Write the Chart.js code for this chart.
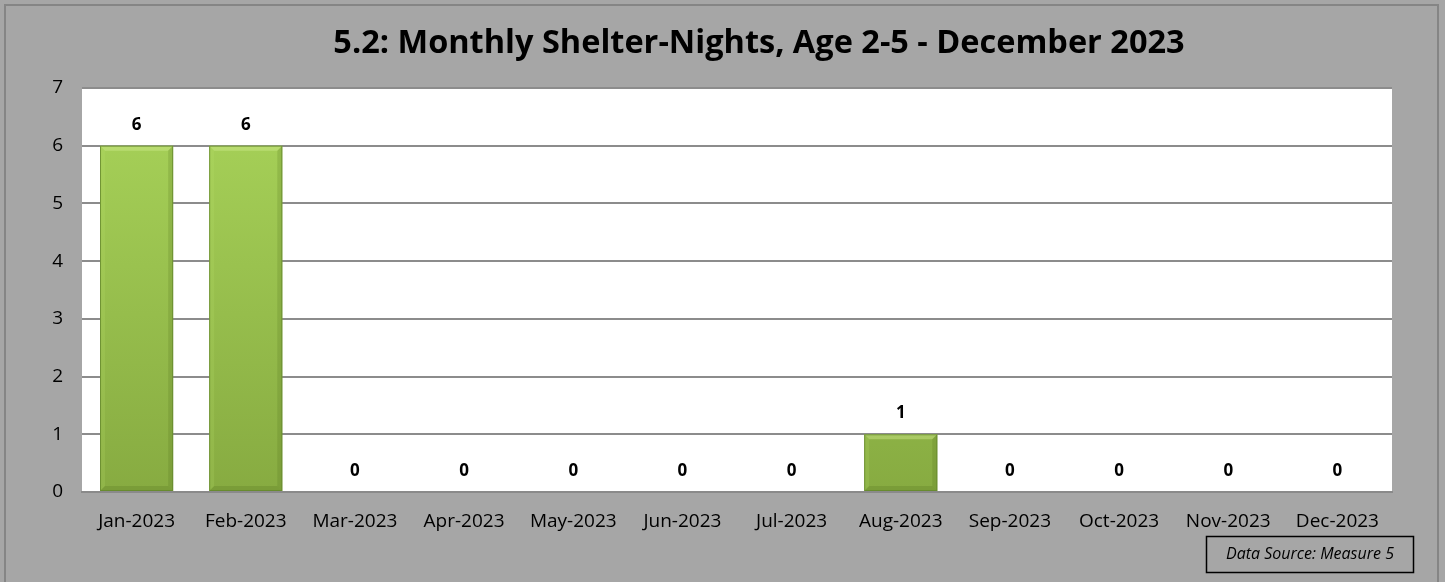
<!DOCTYPE html>
<html>
<head>
<meta charset="utf-8">
<script src="https://cdn.jsdelivr.net/npm/chart.js@4"></script>
<style>
html,body{margin:0;padding:0;background:#a6a6a6;}
#wrap{width:1445px;height:582px;position:relative;}
</style>
</head>
<body>
<div id="wrap"><canvas id="c" width="1445" height="582"></canvas></div>
<script>
const categories = ["Jan-2023","Feb-2023","Mar-2023","Apr-2023","May-2023","Jun-2023","Jul-2023","Aug-2023","Sep-2023","Oct-2023","Nov-2023","Dec-2023"];
const shelterNights = [6,6,0,0,0,0,0,1,0,0,0,0];
const yTicks = [0,1,2,3,4,5,6,7];
const chartTitle = "5.2: Monthly Shelter-Nights, Age 2-5 - December 2023";
const sourceNote = "Data Source: Measure 5";

const FONT = "'Open Sans', sans-serif";

const bgPlugin = {
  id: 'bg',
  beforeDraw(chart) {
    const {ctx, chartArea: a} = chart;
    ctx.save();
    ctx.fillStyle = '#a6a6a6';
    ctx.fillRect(0, 0, chart.width, chart.height);
    ctx.strokeStyle = '#858585';
    ctx.lineWidth = 2;
    ctx.strokeRect(5, 5, 1433, 590);
    ctx.fillStyle = '#ffffff';
    ctx.fillRect(a.left, a.top, a.right - a.left, a.bottom - a.top);
    ctx.font = "bold 32.5px " + FONT;
    ctx.fillStyle = '#000';
    ctx.textAlign = 'center';
    ctx.textBaseline = 'middle';
    ctx.fillText(chartTitle, 759, 44);
    ctx.restore();
  },
  afterDatasetsDraw(chart) {
    const {ctx} = chart;
    const meta = chart.getDatasetMeta(0);
    ctx.save();
    meta.data.forEach((bar, i) => {
      if (!shelterNights[i]) return;
      const w = bar.width, l = bar.x - w / 2, r = bar.x + w / 2, t = bar.y, b = bar.base;
      const d = 5;
      ctx.fillStyle = 'rgba(215,240,150,0.4)';
      ctx.beginPath();
      ctx.moveTo(l, t); ctx.lineTo(r, t); ctx.lineTo(r - d, t + d); ctx.lineTo(l + d, t + d); ctx.closePath(); ctx.fill();
      ctx.fillStyle = 'rgba(70,100,20,0.18)';
      ctx.beginPath();
      ctx.moveTo(r, t); ctx.lineTo(r, b); ctx.lineTo(r - d, b - d); ctx.lineTo(r - d, t + d); ctx.closePath(); ctx.fill();
      ctx.fillStyle = 'rgba(190,225,110,0.18)';
      ctx.beginPath();
      ctx.moveTo(l, t); ctx.lineTo(l + d, t + d); ctx.lineTo(l + d, b - d); ctx.lineTo(l, b); ctx.closePath(); ctx.fill();
      ctx.fillStyle = 'rgba(70,100,20,0.2)';
      ctx.beginPath();
      ctx.moveTo(l, b); ctx.lineTo(l + d, b - d); ctx.lineTo(r - d, b - d); ctx.lineTo(r, b); ctx.closePath(); ctx.fill();
      ctx.strokeStyle = 'rgba(100,135,45,0.8)';
      ctx.lineWidth = 1;
      ctx.strokeRect(l + 0.5, t + 0.5, w - 1, b - t - 1);
    });
    ctx.restore();
  },
  afterDraw(chart) {
    const {ctx} = chart;
    ctx.save();
    const meta = chart.getDatasetMeta(0);
    ctx.font = "bold 17px " + FONT;
    ctx.fillStyle = '#000';
    ctx.textAlign = 'center';
    ctx.textBaseline = 'middle';
    meta.data.forEach((bar, i) => {
      ctx.fillText(String(shelterNights[i]), bar.x, bar.y - 21);
    });
    ctx.strokeStyle = '#000';
    ctx.lineWidth = 1.5;
    ctx.strokeRect(1206.5, 536.5, 207, 36);
    ctx.font = "italic 16px " + FONT;
    ctx.fillText(sourceNote, 1310, 554);
    ctx.restore();
  }
};

function barGradient(context) {
  const chart = context.chart;
  const a = chart.chartArea;
  if (!a) return '#9bc34f';
  const g = chart.ctx.createLinearGradient(0, a.top, 0, a.bottom);
  g.addColorStop(0, '#a9d45a');
  g.addColorStop(1, '#87ab41');
  return g;
}

new Chart(document.getElementById('c'), {
  type: 'bar',
  data: {
    labels: categories,
    datasets: [{
      data: shelterNights,
      backgroundColor: barGradient,
      borderWidth: 0,
      categoryPercentage: 1,
      barPercentage: 0.67
    }]
  },
  plugins: [bgPlugin],
  options: {
    responsive: false,
    animation: false,
    devicePixelRatio: 1,
    layout: {padding: {left: 0, right: 53, top: 88, bottom: 0}},
    plugins: {
      legend: {display: false},
      tooltip: {enabled: false},
      title: {display: false}
    },
    scales: {
      x: {
        grid: {display: false, drawTicks: false},
        border: {display: true, color: '#8a8a8a', width: 2},
        ticks: {color: '#000', font: {family: FONT, size: 19}, padding: 18, maxRotation: 0, autoSkip: false},
        afterFit(s) { s.height = 90; }
      },
      y: {
        min: 0, max: 7,
        afterBuildTicks(s) { s.ticks = yTicks.map(v => ({value: v})); },
        grid: {color: '#8c8c8c', lineWidth: 2, drawTicks: false},
        border: {display: false},
        ticks: {color: '#000', font: {family: FONT, size: 19}, padding: 19},
        afterFit(s) { s.width = 82; }
      }
    }
  }
});
</script>
</body>
</html>
